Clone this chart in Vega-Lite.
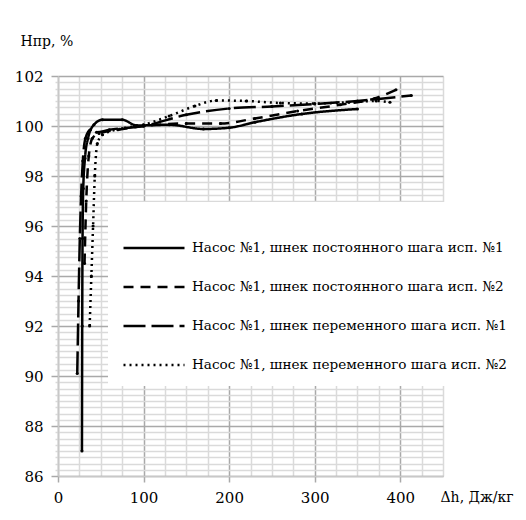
{
  "$schema": "https://vega.github.io/schema/vega-lite/v6.json",
  "width": 385,
  "height": 400,
  "autosize": {"type": "none"},
  "padding": {"left": 58, "top": 76, "right": 83, "bottom": 44},
  "background": "white",
  "config": {"view": {"stroke": null}, "font": "DejaVu Serif"},
  "data": {"values": [
    {"series": "Насос №1, шнек постоянного шага исп. №1", "dh": 28, "H": 87},
    {"series": "Насос №1, шнек постоянного шага исп. №1", "dh": 28.3, "H": 92},
    {"series": "Насос №1, шнек постоянного шага исп. №1", "dh": 28.7, "H": 95.5},
    {"series": "Насос №1, шнек постоянного шага исп. №1", "dh": 29.5, "H": 97.5},
    {"series": "Насос №1, шнек постоянного шага исп. №1", "dh": 31.5, "H": 98.7},
    {"series": "Насос №1, шнек постоянного шага исп. №1", "dh": 35, "H": 99.5},
    {"series": "Насос №1, шнек постоянного шага исп. №1", "dh": 42, "H": 100.05},
    {"series": "Насос №1, шнек постоянного шага исп. №1", "dh": 52, "H": 100.25},
    {"series": "Насос №1, шнек постоянного шага исп. №1", "dh": 75, "H": 100.25},
    {"series": "Насос №1, шнек постоянного шага исп. №1", "dh": 92, "H": 100.02},
    {"series": "Насос №1, шнек постоянного шага исп. №1", "dh": 130, "H": 100.05},
    {"series": "Насос №1, шнек постоянного шага исп. №1", "dh": 170, "H": 99.88},
    {"series": "Насос №1, шнек постоянного шага исп. №1", "dh": 200, "H": 99.93},
    {"series": "Насос №1, шнек постоянного шага исп. №1", "dh": 230, "H": 100.15},
    {"series": "Насос №1, шнек постоянного шага исп. №1", "dh": 285, "H": 100.48},
    {"series": "Насос №1, шнек постоянного шага исп. №1", "dh": 350, "H": 100.68},

    {"series": "Насос №1, шнек постоянного шага исп. №2", "dh": 31, "H": 94.5},
    {"series": "Насос №1, шнек постоянного шага исп. №2", "dh": 33, "H": 97},
    {"series": "Насос №1, шнек постоянного шага исп. №2", "dh": 36, "H": 98.8},
    {"series": "Насос №1, шнек постоянного шага исп. №2", "dh": 40, "H": 99.5},
    {"series": "Насос №1, шнек постоянного шага исп. №2", "dh": 48, "H": 99.7},
    {"series": "Насос №1, шнек постоянного шага исп. №2", "dh": 70, "H": 99.85},
    {"series": "Насос №1, шнек постоянного шага исп. №2", "dh": 100, "H": 100},
    {"series": "Насос №1, шнек постоянного шага исп. №2", "dh": 150, "H": 100.1},
    {"series": "Насос №1, шнек постоянного шага исп. №2", "dh": 190, "H": 100.1},
    {"series": "Насос №1, шнек постоянного шага исп. №2", "dh": 230, "H": 100.3},
    {"series": "Насос №1, шнек постоянного шага исп. №2", "dh": 280, "H": 100.6},
    {"series": "Насос №1, шнек постоянного шага исп. №2", "dh": 330, "H": 100.85},
    {"series": "Насос №1, шнек постоянного шага исп. №2", "dh": 370, "H": 101.1},
    {"series": "Насос №1, шнек постоянного шага исп. №2", "dh": 395, "H": 101.45},

    {"series": "Насос №1, шнек переменного шага исп. №1", "dh": 22.5, "H": 90.1},
    {"series": "Насос №1, шнек переменного шага исп. №1", "dh": 24, "H": 93},
    {"series": "Насос №1, шнек переменного шага исп. №1", "dh": 25.5, "H": 95.5},
    {"series": "Насос №1, шнек переменного шага исп. №1", "dh": 27, "H": 97.2},
    {"series": "Насос №1, шнек переменного шага исп. №1", "dh": 29, "H": 98.6},
    {"series": "Насос №1, шнек переменного шага исп. №1", "dh": 32, "H": 99.5},
    {"series": "Насос №1, шнек переменного шага исп. №1", "dh": 38, "H": 99.85},
    {"series": "Насос №1, шнек переменного шага исп. №1", "dh": 45, "H": 99.75},
    {"series": "Насос №1, шнек переменного шага исп. №1", "dh": 60, "H": 99.85},
    {"series": "Насос №1, шнек переменного шага исп. №1", "dh": 100, "H": 100},
    {"series": "Насос №1, шнек переменного шага исп. №1", "dh": 150, "H": 100.45},
    {"series": "Насос №1, шнек переменного шага исп. №1", "dh": 200, "H": 100.7},
    {"series": "Насос №1, шнек переменного шага исп. №1", "dh": 250, "H": 100.78},
    {"series": "Насос №1, шнек переменного шага исп. №1", "dh": 300, "H": 100.88},
    {"series": "Насос №1, шнек переменного шага исп. №1", "dh": 350, "H": 101.0},
    {"series": "Насос №1, шнек переменного шага исп. №1", "dh": 413, "H": 101.22},

    {"series": "Насос №1, шнек переменного шага исп. №2", "dh": 37, "H": 92},
    {"series": "Насос №1, шнек переменного шага исп. №2", "dh": 39, "H": 94},
    {"series": "Насос №1, шнек переменного шага исп. №2", "dh": 41, "H": 96},
    {"series": "Насос №1, шнек переменного шага исп. №2", "dh": 43, "H": 98},
    {"series": "Насос №1, шнек переменного шага исп. №2", "dh": 46, "H": 99.3},
    {"series": "Насос №1, шнек переменного шага исп. №2", "dh": 52, "H": 99.65},
    {"series": "Насос №1, шнек переменного шага исп. №2", "dh": 75, "H": 99.9},
    {"series": "Насос №1, шнек переменного шага исп. №2", "dh": 100, "H": 100.05},
    {"series": "Насос №1, шнек переменного шага исп. №2", "dh": 130, "H": 100.4},
    {"series": "Насос №1, шнек переменного шага исп. №2", "dh": 160, "H": 100.8},
    {"series": "Насос №1, шнек переменного шага исп. №2", "dh": 185, "H": 101.02},
    {"series": "Насос №1, шнек переменного шага исп. №2", "dh": 220, "H": 101.0},
    {"series": "Насос №1, шнек переменного шага исп. №2", "dh": 260, "H": 100.92},
    {"series": "Насос №1, шнек переменного шага исп. №2", "dh": 300, "H": 100.9},
    {"series": "Насос №1, шнек переменного шага исп. №2", "dh": 340, "H": 100.95},
    {"series": "Насос №1, шнек переменного шага исп. №2", "dh": 372, "H": 101.0},
    {"series": "Насос №1, шнек переменного шага исп. №2", "dh": 388, "H": 100.95}
  ]},
  "encoding": {
    "x": {
      "field": "dh", "type": "quantitative",
      "scale": {"domain": [0, 450], "nice": false, "zero": false},
      "axis": {
        "values": [0, 25, 50, 75, 100, 125, 150, 175, 200, 225, 250, 275, 300, 325, 350, 375, 400, 425, 450],
        "labelExpr": "datum.value % 100 === 0 ? format(datum.value, 'd') : ''",
        "labelOverlap": false,
        "labelFlush": false,
        "gridColor": {"condition": {"test": "datum.value % 100 === 0", "value": "#a9a9a9"}, "value": "#dadada"},
        "gridWidth": 1.5,
        "tickColor": "#a9a9a9",
        "tickWidth": 1.5,
        "tickOpacity": {"condition": {"test": "datum.value % 100 === 0", "value": 1}, "value": 0},
        "tickSize": 6,
        "domainColor": "#c8c8c8",
        "domainWidth": 1.5,
        "labelFont": "DejaVu Serif",
        "labelFontSize": 15,
        "labelColor": "black",
        "labelPadding": 8,
        "title": "Δh, Дж/кг",
        "titleFont": "DejaVu Serif",
        "titleFontSize": 14,
        "titleFontWeight": "normal",
        "titleColor": "black",
        "titleAlign": "left",
        "titleBaseline": "alphabetic",
        "titleX": 382,
        "titleY": 25
      }
    },
    "y": {
      "field": "H", "type": "quantitative",
      "scale": {"domain": [86, 102], "nice": false, "zero": false},
      "axis": {
        "values": [86, 86.25, 86.5, 86.75, 87, 87.25, 87.5, 87.75, 88, 88.25, 88.5, 88.75, 89, 89.25, 89.5, 89.75, 90, 90.25, 90.5, 90.75, 91, 91.25, 91.5, 91.75, 92, 92.25, 92.5, 92.75, 93, 93.25, 93.5, 93.75, 94, 94.25, 94.5, 94.75, 95, 95.25, 95.5, 95.75, 96, 96.25, 96.5, 96.75, 97, 97.25, 97.5, 97.75, 98, 98.25, 98.5, 98.75, 99, 99.25, 99.5, 99.75, 100, 100.25, 100.5, 100.75, 101, 101.25, 101.5, 101.75, 102],
        "labelExpr": "datum.value % 2 === 0 ? format(datum.value, 'd') : ''",
        "labelOverlap": false,
        "labelFlush": false,
        "gridColor": {"condition": {"test": "datum.value % 2 === 0", "value": "#a9a9a9"}, "value": "#dadada"},
        "gridWidth": 1.5,
        "tickColor": {"condition": {"test": "datum.value % 2 === 0", "value": "#a9a9a9"}, "value": "#dadada"},
        "tickWidth": 1.5,
        "tickSize": {"condition": {"test": "datum.value % 2 === 0", "value": 7}, "value": 3},
        "domainColor": "#c8c8c8",
        "domainWidth": 1.5,
        "labelFont": "DejaVu Serif",
        "labelFontSize": 15,
        "labelColor": "black",
        "labelPadding": 8,
        "title": "Hпр, %",
        "titleFont": "DejaVu Serif",
        "titleFontSize": 14,
        "titleFontWeight": "normal",
        "titleColor": "black",
        "titleAngle": 0,
        "titleAlign": "left",
        "titleBaseline": "alphabetic",
        "titleX": -38,
        "titleY": -31
      }
    }
  },
  "layer": [
    {
      "mark": {"type": "line", "interpolate": "monotone", "strokeWidth": 2.5, "color": "black"},
      "encoding": {
        "strokeDash": {
          "field": "series", "type": "nominal",
          "scale": {
            "domain": ["Насос №1, шнек постоянного шага исп. №1", "Насос №1, шнек постоянного шага исп. №2", "Насос №1, шнек переменного шага исп. №1", "Насос №1, шнек переменного шага исп. №2"],
            "range": [[1, 0], [10, 7], [22, 6], [2, 4]]
          },
          "legend": {
            "orient": "none",
            "legendX": 50,
            "legendY": 126,
            "title": null,
            "fillColor": "white",
            "padding": 14,
            "symbolType": "stroke",
            "symbolSize": 3721,
            "symbolStrokeWidth": 2.5,
            "symbolStrokeColor": "black",
            "labelFont": "DejaVu Serif",
            "labelFontSize": 13.6,
            "labelColor": "black",
            "labelLimit": 0,
            "labelOffset": 6,
            "rowPadding": 0
          }
        }
      }
    },
    {
      "mark": {"type": "point", "filled": true, "size": 10, "color": "black", "opacity": 1},
      "encoding": {"detail": {"field": "series", "type": "nominal"}}
    }
  ]
}
